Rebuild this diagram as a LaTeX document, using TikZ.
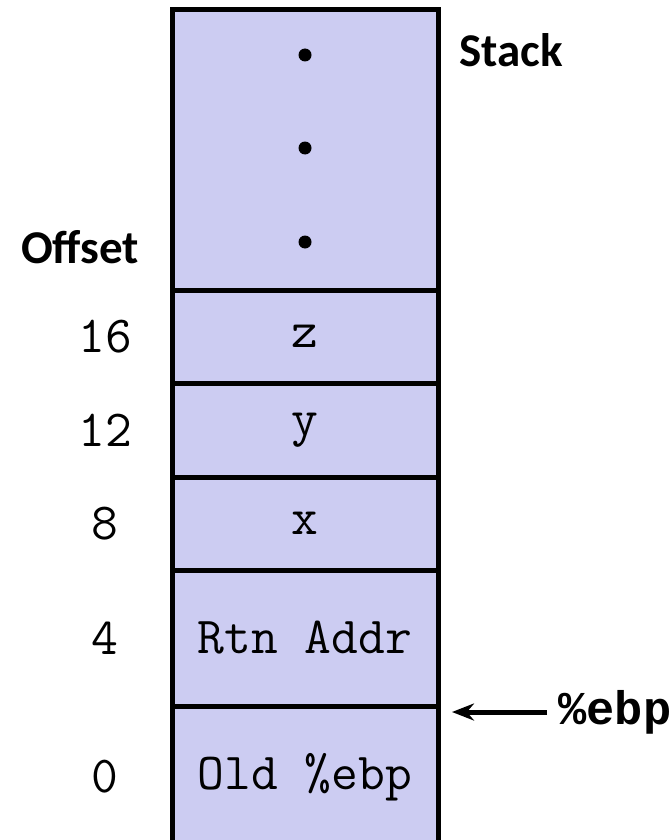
\documentclass[tikz,border=0pt]{standalone}
\usepackage{fontspec}
\setmainfont{Carlito}
\newfontfamily\boldcode{Liberation Mono}
\usetikzlibrary{positioning,arrows.meta}
\definecolor{stackblue}{RGB}{204,204,242}

\begin{document}
\begin{tikzpicture}[x=1pt,y=-1pt,
  cell/.style={draw, line width=5pt, fill=stackblue, outer sep=0pt, inner sep=0pt,
    minimum width=266pt, font=\ttfamily\fontsize{52}{54}\selectfont},
  offs/.style={font=\ttfamily\fontsize{52}{54}\selectfont},
  title/.style={font=\bfseries\fontsize{47}{50}\selectfont},
  dotmark/.style={circle, fill=black, inner sep=0pt, minimum size=13pt}]
\useasboundingbox (0,0) rectangle (671,840);
% the stack frame
\node[cell, minimum height=280pt, anchor=north] (top) at (305,10) {};
\node[cell, minimum height=93pt, below=0pt of top] (zcell) {z};
\node[cell, minimum height=94pt, below=0pt of zcell] (ycell) {y};
\node[cell, minimum height=93pt, below=0pt of ycell] (xcell) {x};
\node[cell, minimum height=136pt, below=0pt of xcell] (rtn) {Rtn Addr};
\node[cell, minimum height=142pt, below=0pt of rtn] (old) {Old \%ebp};
\node[dotmark] (dot1) at (305,55) {};
\node[dotmark] (dot2) at (305,148) {};
\node[dotmark] (dot3) at (305,242) {};
% labels
\coordinate (col) at (105,0);
\node[title] (stack) at (511,50) {Stack};
\node[title] (offset) at (80,247) {Offset};
\node[offs] (o16) at (col |- zcell) {16};
\node[offs] (o12) at (col |- ycell) {12};
\node[offs] (o8) at (col |- xcell) {8};
\node[offs] (o4) at (col |- rtn) {4};
\node[offs] (o0) at (col |- old) {0};
% frame pointer
\node[font=\boldcode\bfseries\fontsize{47}{50}\selectfont, anchor=west] (ebp) at (555,712) {\%ebp};
\coordinate (ebptip) at ([xshift=14pt,yshift=-6pt]old.north east);
\draw[line width=5pt, -{Stealth[length=22pt,width=17pt]}] ([xshift=-8pt]ebp.west) -- (ebptip);
\end{tikzpicture}
\end{document}
